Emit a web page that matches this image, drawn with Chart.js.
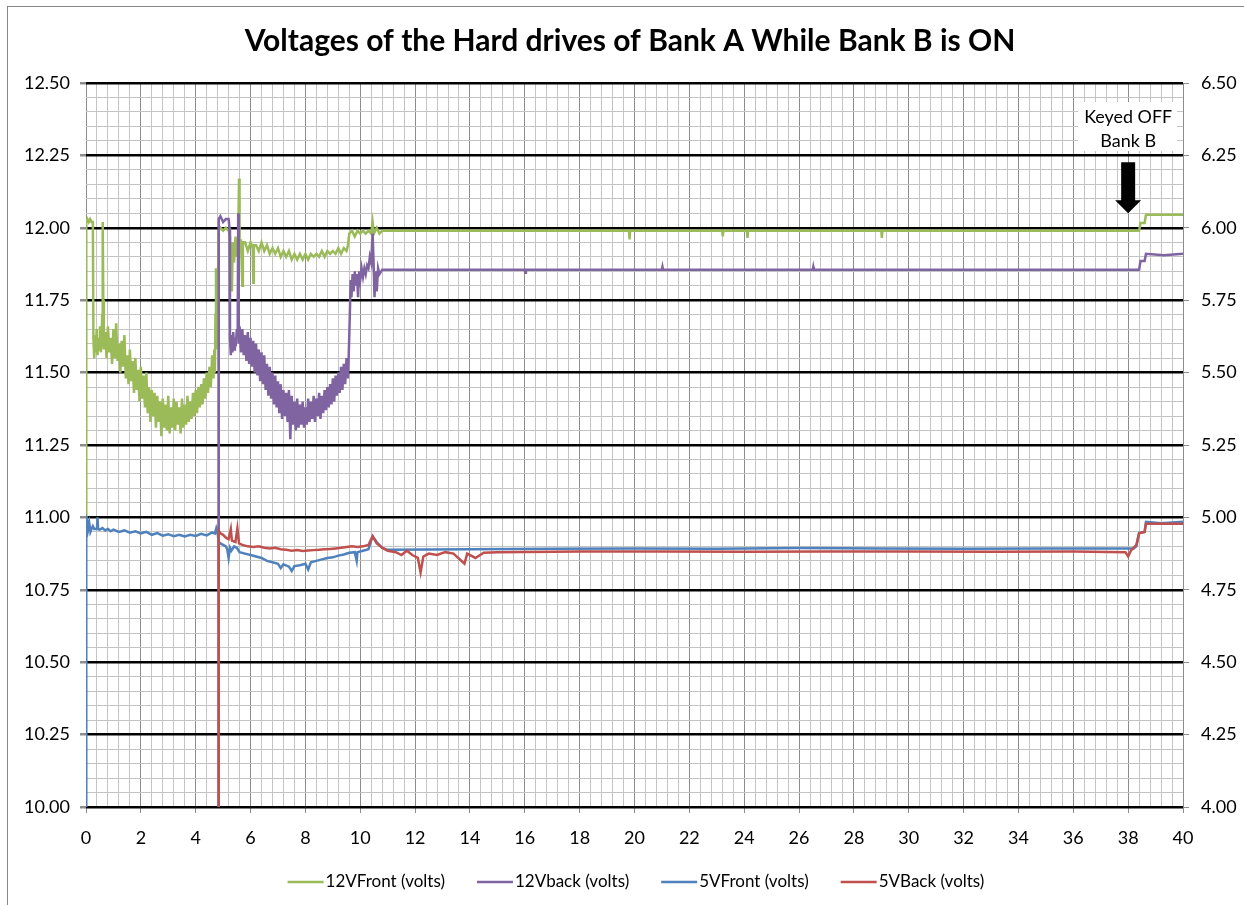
<!DOCTYPE html>
<html>
<head>
<meta charset="utf-8">
<title>Voltages of the Hard drives of Bank A While Bank B is ON</title>
<script src="https://cdn.jsdelivr.net/npm/chart.js@4.4.1/dist/chart.umd.min.js"></script>
<style>
  html, body { margin: 0; padding: 0; background: #fff; }
  #wrap { width: 1244px; height: 905px; position: relative; }
</style>
</head>
<body>
<div id="wrap"><canvas id="voltChart"></canvas></div>
<script>
// [minutes, volts]
const front12 = [[0,10.97],[0.01,12.02],[0.05,12.03],[0.1,12.02],[0.15,12.03],[0.2,12.02],[0.25,12.02],[0.27,11.62],
  [0.3,11.55],[0.33,11.63],[0.36,11.57],[0.39,11.65],[0.42,11.56],[0.45,11.62],[0.48,11.58],[0.51,11.66],[0.54,11.57],[0.57,11.61],[0.59,11.7],[0.61,12.02],[0.63,11.75],[0.65,11.58],
  [0.7,11.64],[0.75,11.55],[0.8,11.66],[0.85,11.57],[0.9,11.62],[0.95,11.53],[1,11.65],[1.05,11.55],[1.1,11.67],[1.15,11.54],[1.2,11.6],[1.25,11.5],[1.3,11.61],[1.35,11.52],[1.4,11.63],[1.45,11.48],[1.5,11.56],[1.55,11.46],[1.6,11.58],[1.65,11.47],[1.7,11.54],[1.75,11.43],[1.8,11.55],[1.85,11.44],[1.9,11.51],[1.95,11.4],
  [2,11.52],[2.05,11.41],[2.1,11.49],[2.15,11.38],[2.2,11.5],[2.25,11.36],[2.3,11.45],[2.35,11.33],[2.4,11.44],[2.45,11.35],[2.5,11.43],[2.55,11.31],[2.6,11.42],[2.65,11.33],[2.7,11.4],[2.75,11.28],[2.8,11.41],[2.85,11.31],[2.9,11.39],[2.95,11.3],
  [3,11.42],[3.05,11.29],[3.1,11.38],[3.15,11.31],[3.2,11.41],[3.25,11.3],[3.3,11.4],[3.35,11.32],[3.4,11.38],[3.45,11.29],[3.5,11.41],[3.55,11.31],[3.6,11.39],[3.65,11.32],[3.7,11.42],[3.75,11.33],[3.8,11.4],[3.85,11.34],[3.9,11.43],[3.95,11.35],
  [4,11.44],[4.05,11.36],[4.1,11.45],[4.15,11.38],[4.2,11.46],[4.25,11.39],[4.3,11.48],[4.35,11.41],[4.4,11.5],[4.45,11.43],[4.5,11.52],[4.55,11.45],[4.6,11.56],[4.65,11.48],
  [4.68,11.58],[4.7,11.5],[4.72,11.7],[4.74,11.86],[4.76,11.58],[4.78,11.66],[4.8,11.62],[4.83,11.99],[4.9,12],[5,11.99],[5.1,12],[5.2,11.99],[5.25,11.97],[5.28,11.85],[5.3,11.92],[5.32,11.78],[5.35,11.95],[5.4,11.88],[5.45,11.97],[5.5,11.9],[5.55,11.96],[5.58,12.17],[5.6,11.92],[5.65,11.96],[5.7,11.8],[5.72,11.95],
  [5.8,11.95],[5.9,11.92],[6,11.95],[6.08,11.93],[6.1,11.81],[6.12,11.94],[6.2,11.94],[6.3,11.92],[6.4,11.95],[6.5,11.92],[6.6,11.94],[6.7,11.91],[6.8,11.93],[6.9,11.91],[7,11.93],[7.1,11.9],[7.2,11.92],[7.3,11.9],[7.4,11.92],[7.5,11.89],[7.6,11.91],[7.7,11.89],[7.8,11.91],[7.9,11.89],
  [8,11.91],[8.1,11.89],[8.2,11.91],[8.3,11.9],[8.4,11.91],[8.5,11.9],[8.6,11.92],[8.7,11.9],[8.8,11.92],[8.9,11.91],[9,11.92],[9.1,11.91],[9.2,11.93],[9.3,11.91],[9.4,11.93],[9.5,11.92],[9.55,11.94],
  [9.6,11.98],[9.7,11.99],[9.8,11.97],[9.9,11.99],[10,11.98],[10.1,11.99],[10.2,11.98],[10.3,11.99],[10.4,11.98],[10.45,12.02],[10.5,11.98],[10.6,12],[10.7,11.98],[10.8,11.99],
  [11,11.99],[13,11.99],[15,11.99],[17,11.99],[19.8,11.99],[19.82,11.96],[19.84,11.99],[22,11.99],[23.2,11.99],[23.22,11.97],[23.24,11.99],[24.1,11.99],[24.12,11.965],[24.14,11.99],[26,11.99],[29,11.99],[29.02,11.965],[29.04,11.99],
  [31,11.99],[33,11.99],[35,11.99],[37,11.99],[38.4,11.99],[38.45,12.017],[38.6,12.017],[38.65,12.045],[40,12.045]];

const back12 = [[4.82,10],[4.84,12.03],[4.9,12.04],[5,12.02],[5.1,12.03],[5.2,12.03],[5.23,12],[5.25,11.62],[5.28,11.56],[5.31,11.63],[5.34,11.57],[5.37,11.64],[5.4,11.58],[5.43,11.62],[5.46,11.59],[5.5,11.65],[5.53,11.62],[5.55,12.05],[5.57,11.6],[5.6,11.66],
  [5.65,11.57],[5.7,11.65],[5.75,11.56],[5.8,11.63],[5.85,11.54],[5.9,11.64],[5.95,11.53],[6,11.62],[6.05,11.52],[6.1,11.61],[6.15,11.5],[6.2,11.6],[6.25,11.49],[6.3,11.58],[6.35,11.47],[6.4,11.57],[6.45,11.46],[6.5,11.56],[6.55,11.44],[6.6,11.53],[6.65,11.42],[6.7,11.52],[6.75,11.41],[6.8,11.5],[6.85,11.39],[6.9,11.49],[6.95,11.38],
  [7,11.47],[7.05,11.36],[7.1,11.46],[7.15,11.34],[7.2,11.44],[7.25,11.35],[7.3,11.43],[7.35,11.33],[7.4,11.44],[7.45,11.27],[7.5,11.42],[7.55,11.32],[7.6,11.4],[7.65,11.3],[7.7,11.41],[7.75,11.31],[7.8,11.39],[7.85,11.32],[7.9,11.4],[7.95,11.31],
  [8,11.38],[8.05,11.32],[8.1,11.41],[8.15,11.33],[8.2,11.4],[8.25,11.34],[8.3,11.42],[8.35,11.33],[8.4,11.41],[8.45,11.35],[8.5,11.43],[8.55,11.34],[8.6,11.42],[8.65,11.36],[8.7,11.44],[8.75,11.37],[8.8,11.45],[8.85,11.38],[8.9,11.46],[8.95,11.39],
  [9,11.48],[9.05,11.4],[9.1,11.49],[9.15,11.42],[9.2,11.5],[9.25,11.43],[9.3,11.52],[9.35,11.44],[9.4,11.53],[9.45,11.46],[9.5,11.55],[9.55,11.48],[9.58,11.56],[9.62,11.7],[9.65,11.82],[9.68,11.76],[9.72,11.84],[9.76,11.78],[9.8,11.85],[9.84,11.8],[9.88,11.84],[9.92,11.76],[9.96,11.85],
  [10,11.82],[10.05,11.86],[10.1,11.83],[10.15,11.86],[10.2,11.84],[10.25,11.87],[10.3,11.86],[10.35,11.9],[10.4,11.88],[10.45,11.98],[10.48,11.9],[10.52,11.76],[10.56,11.85],[10.6,11.78],[10.65,11.86],[10.7,11.84],[10.8,11.855],
  [12,11.855],[14,11.855],[16,11.855],[16.02,11.845],[16.04,11.855],[18,11.855],[21,11.855],[21.02,11.865],[21.04,11.855],[24,11.855],[26.5,11.855],[26.52,11.865],[26.54,11.855],[30,11.855],[33,11.855],[36,11.855],
  [38.4,11.855],[38.45,11.885],[38.6,11.885],[38.65,11.91],[39.3,11.905],[40,11.91]];

const front5 = [[0,4],[0.01,5],[0.05,4.99],[0.08,4.96],[0.12,4.98],[0.16,4.95],[0.2,4.96],[0.25,4.97],[0.3,4.96],[0.4,4.96],[0.42,5],[0.44,4.96],[0.5,4.958],[0.6,4.963],[0.7,4.955],[0.8,4.96],[0.9,4.952],
  [1,4.958],[1.2,4.95],[1.4,4.955],[1.6,4.947],[1.8,4.952],[2,4.945],[2.2,4.95],[2.4,4.94],[2.6,4.946],[2.8,4.937],[3,4.942],[3.2,4.935],[3.4,4.94],[3.6,4.934],[3.8,4.94],[4,4.936],[4.2,4.943],[4.4,4.938],[4.6,4.948],[4.7,4.944],[4.75,4.962],[4.8,4.945],
  [4.84,4.915],[4.9,4.91],[5,4.905],[5.1,4.9],[5.15,4.89],[5.2,4.86],[5.25,4.895],[5.3,4.885],[5.4,4.9],[5.5,4.895],[5.6,4.88],[5.8,4.875],[6,4.87],[6.2,4.865],[6.4,4.86],[6.6,4.85],[6.8,4.845],[7,4.84],[7.1,4.825],[7.2,4.838],[7.4,4.83],[7.5,4.815],[7.6,4.832],[7.8,4.835],
  [8,4.84],[8.1,4.82],[8.2,4.845],[8.4,4.85],[8.6,4.855],[8.8,4.86],[9,4.862],[9.2,4.868],[9.4,4.872],[9.6,4.878],[9.8,4.88],[9.87,4.85],[9.9,4.88],[10.1,4.885],[10.3,4.89],[10.45,4.935],[10.6,4.915],[10.8,4.895],
  [11,4.888],[14,4.89],[17,4.892],[20,4.893],[23,4.892],[26,4.894],[29,4.893],[32,4.892],[35,4.893],[38.2,4.893],[38.3,4.9],[38.4,4.947],[38.6,4.95],[38.65,4.985],[39.2,4.98],[40,4.985]];

const back5 = [[4.82,4],[4.84,4.955],[4.9,4.945],[5,4.94],[5.1,4.93],[5.2,4.925],[5.28,4.96],[5.32,4.92],[5.45,4.915],[5.52,4.962],[5.58,4.91],[5.7,4.905],[5.9,4.9],[6.1,4.898],[6.3,4.9],[6.5,4.895],[6.7,4.893],[6.9,4.895],
  [7.1,4.89],[7.3,4.888],[7.5,4.885],[7.7,4.887],[7.9,4.884],[8.1,4.886],[8.3,4.887],[8.5,4.888],[8.7,4.89],[8.9,4.891],[9.1,4.893],[9.3,4.895],[9.5,4.898],[9.7,4.9],[9.9,4.898],[10.1,4.9],[10.3,4.905],[10.45,4.935],[10.6,4.91],[10.8,4.895],
  [11,4.885],[11.3,4.88],[11.5,4.87],[11.7,4.885],[11.9,4.87],[12.1,4.86],[12.2,4.81],[12.3,4.865],[12.5,4.875],[12.8,4.87],[13.1,4.88],[13.4,4.875],[13.8,4.84],[13.9,4.875],[14.2,4.86],[14.5,4.878],
  [15,4.88],[18,4.882],[21,4.882],[24,4.881],[27,4.882],[30,4.882],[33,4.881],[36,4.882],[37.9,4.88],[38,4.865],[38.1,4.885],[38.3,4.905],[38.4,4.945],[38.6,4.95],[38.65,4.978],[40,4.978]];

const seriesNames = ["12VFront (volts)", "12Vback (volts)", "5VFront (volts)", "5VBack (volts)"];
const seriesColors = ["#9BBB59", "#8064A2", "#4F81BD", "#C0504D"];
const chartTitle = "Voltages of the Hard drives of Bank A While Bank B is ON";
const noteLines = ["Keyed OFF", "Bank B"];

// ticks: minor every 0.4 min / 0.05 V, labels on every 2 min / 0.25 V
const xTicks = [];
for (let i = 0; i <= 100; i++) xTicks.push(+(i * 0.4).toFixed(1));
const leftTicks = [];
for (let i = 0; i <= 50; i++) leftTicks.push(+(10 + i * 0.05).toFixed(2));
const rightTicks = leftTicks.map(v => +(v - 6).toFixed(2));

const onStep = (v, step) => Math.abs(v / step - Math.round(v / step)) < 1e-6;
const toPoints = arr => arr.map(p => ({ x: p[0], y: p[1] }));

Chart.defaults.font.family = "Lato";
Chart.defaults.color = "#000";
const tickFont = { family: "Lato", size: 18 };

const decor = {
  id: "decor",
  beforeDraw(chart) {
    const ctx = chart.ctx;
    ctx.save();
    ctx.fillStyle = "#fff";
    ctx.fillRect(0, 0, chart.width, chart.height);
    ctx.strokeStyle = "#868686";
    ctx.lineWidth = 1;
    ctx.strokeRect(7.5, 6.5, chart.width + 20, chart.height + 20);
    ctx.restore();
  },
  afterDraw(chart) {
    const ctx = chart.ctx;
    const x = chart.scales.x, y = chart.scales.y;
    ctx.save();

    // title
    ctx.fillStyle = "#000";
    ctx.font = "bold 30px Lato";
    ctx.textAlign = "center";
    ctx.textBaseline = "alphabetic";
    ctx.fillText(chartTitle, 630, 51, 776);

    // note with arrow
    const tipX = x.getPixelForValue(38), tipY = y.getPixelForValue(12.05);
    ctx.fillStyle = "#fff";
    ctx.fillRect(tipX - 50, 102, 99, 49);
    ctx.fillStyle = "#000";
    ctx.font = "18px Lato";
    ctx.textBaseline = "alphabetic";
    ctx.fillText(noteLines[0], tipX, 123, 88);
    ctx.fillText(noteLines[1], tipX, 147);
    ctx.beginPath();
    ctx.moveTo(tipX - 7, tipY - 51);
    ctx.lineTo(tipX + 7, tipY - 51);
    ctx.lineTo(tipX + 7, tipY - 13);
    ctx.lineTo(tipX + 13, tipY - 13);
    ctx.lineTo(tipX, tipY);
    ctx.lineTo(tipX - 13, tipY - 13);
    ctx.lineTo(tipX - 7, tipY - 13);
    ctx.closePath();
    ctx.fill();

    // legend, centred under the plot
    ctx.font = "17px Lato";
    ctx.textAlign = "left";
    ctx.textBaseline = "middle";
    const swatch = 36, gapText = 2, gapItem = 32, ly = 882;
    const widths = seriesNames.map(n => ctx.measureText(n).width);
    const total = widths.reduce((a, w) => a + swatch + gapText + w, 0) + gapItem * (seriesNames.length - 1);
    let lx = 636 - total / 2;
    seriesNames.forEach((name, i) => {
      ctx.strokeStyle = seriesColors[i];
      ctx.lineWidth = 2.5;
      ctx.beginPath();
      ctx.moveTo(lx, ly);
      ctx.lineTo(lx + swatch, ly);
      ctx.stroke();
      ctx.fillStyle = "#000";
      ctx.fillText(name, lx + swatch + gapText, ly);
      lx += swatch + gapText + widths[i] + gapItem;
    });
    ctx.restore();
  }
};

const datasets = [front12, back12, front5, back5].map((arr, i) => ({
  label: seriesNames[i],
  data: toPoints(arr),
  borderColor: seriesColors[i],
  backgroundColor: seriesColors[i],
  borderWidth: 2.5,
  pointRadius: 0,
  tension: 0,
  yAxisID: i < 2 ? "y" : "y2",
  order: 4 - i
}));

new Chart(document.getElementById("voltChart"), {
  type: "line",
  data: { datasets },
  options: {
    responsive: true,
    maintainAspectRatio: false,
    animation: false,
    events: [],
    layout: { padding: { top: 83, left: 0, right: 0, bottom: 0 } },
    plugins: { legend: { display: false }, title: { display: false }, tooltip: { enabled: false } },
    scales: {
      x: {
        type: "linear",
        min: 0,
        max: 40,
        afterBuildTicks: s => { s.ticks = xTicks.map(v => ({ value: v })); },
        afterFit: s => { s.height = 98; },
        border: { display: false },
        grid: {
          color: c => onStep(c.tick.value, 2) ? "#8c8c8c" : "#c4c4c4",
          lineWidth: 1,
          tickLength: 6,
          tickColor: c => onStep(c.tick.value, 2) ? "#8c8c8c" : "rgba(0,0,0,0)"
        },
        ticks: {
          font: tickFont,
          autoSkip: false,
          maxRotation: 0,
          padding: 14,
          callback: v => onStep(v, 2) ? String(Math.round(v)) : ""
        }
      },
      y: {
        position: "left",
        min: 10,
        max: 12.5,
        afterBuildTicks: s => { s.ticks = leftTicks.map(v => ({ value: v })); },
        afterFit: s => { s.width = 86; },
        border: { display: false },
        grid: {
          color: c => onStep(c.tick.value, 0.25) ? "#000" : "#c4c4c4",
          lineWidth: c => onStep(c.tick.value, 0.25) ? 2.5 : 1,
          tickLength: 6,
          tickColor: c => onStep(c.tick.value, 0.25) ? "#8c8c8c" : "rgba(0,0,0,0)"
        },
        ticks: {
          font: tickFont,
          autoSkip: false,
          padding: 10,
          callback: v => onStep(v, 0.25) ? Number(v).toFixed(2) : ""
        }
      },
      y2: {
        position: "right",
        min: 4,
        max: 6.5,
        afterBuildTicks: s => { s.ticks = rightTicks.map(v => ({ value: v })); },
        afterFit: s => { s.width = 61; },
        border: { display: false },
        grid: {
          drawOnChartArea: false,
          tickLength: 6,
          tickColor: c => onStep(c.tick.value, 0.25) ? "#8c8c8c" : "rgba(0,0,0,0)"
        },
        ticks: {
          font: tickFont,
          autoSkip: false,
          padding: 12,
          callback: v => onStep(v, 0.25) ? Number(v).toFixed(2) : ""
        }
      }
    }
  },
  plugins: [decor]
});
</script>
</body>
</html>
